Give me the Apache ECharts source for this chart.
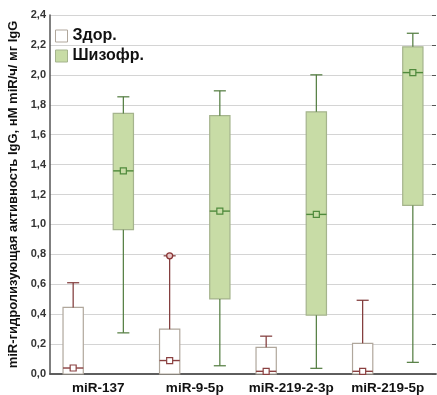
<!DOCTYPE html>
<html>
<head>
<meta charset="utf-8">
<script src="https://cdn.jsdelivr.net/npm/echarts@6/dist/echarts.min.js"></script>
<style>
  html, body { margin: 0; padding: 0; background: #fff; }
  #main { width: 437px; height: 395px; }
</style>
</head>
<body>
<div id="main"></div>
<script>
  // categories + box stats [min, q1, median, q3, max]
  var categories = ['miR-137', 'miR-9-5p', 'miR-219-2-3p', 'miR-219-5p']
  var healthy = [
    [0, 0, 0.04, 0.445, 0.61],
    [0, 0, 0.09, 0.30, 0.79],
    [0, 0, 0.018, 0.178, 0.253],
    [0, 0, 0.018, 0.205, 0.493]
  ]
  var schizo = [
    [0.275, 0.965, 1.358, 1.742, 1.853],
    [0.055, 0.502, 1.089, 1.727, 1.893],
    [0.038, 0.393, 1.067, 1.753, 2.0],
    [0.078, 1.127, 2.015, 2.187, 2.278]
  ]
  var healthyDots = [null, 0.79, null, null]
  var yTicks = ['0,0', '0,2', '0,4', '0,6', '0,8', '1,0', '1,2', '1,4', '1,6', '1,8', '2,0', '2,2', '2,4']

  var styles = {
    h: { fill: '#ffffff', border: '#b0a79c', whisker: '#7d3434', median: '#8a4040', mark: '#8a4040' },
    s: { fill: '#c8dca6', border: '#a5b48d', whisker: '#4f7a3c', median: '#4f8a3c', mark: '#4f8a3c' }
  }

  function makeRender (st, shift) {
    return function (params, api) {
      var idx = api.value(0)
      var band = api.size([1, 0])[0]
      var cx = api.coord([idx, 0])[0] + shift * band
      var bw = band * 0.21
      var cw = band * 0.125
      var yLow = api.coord([idx, api.value(1)])[1]
      var yQ1 = api.coord([idx, api.value(2)])[1]
      var yMed = api.coord([idx, api.value(3)])[1]
      var yQ3 = api.coord([idx, api.value(4)])[1]
      var yHigh = api.coord([idx, api.value(5)])[1]
      var children = []
      children.push({
        type: 'rect',
        shape: { x: cx - bw / 2, y: yQ3, width: bw, height: yQ1 - yQ3 },
        style: { fill: st.fill, stroke: st.border, lineWidth: 1.2 }
      })
      children.push({ type: 'line', shape: { x1: cx, y1: yQ3, x2: cx, y2: yHigh }, style: { stroke: st.whisker, lineWidth: 1.2 } })
      children.push({ type: 'line', shape: { x1: cx - cw / 2, y1: yHigh, x2: cx + cw / 2, y2: yHigh }, style: { stroke: st.whisker, lineWidth: 1.2 } })
      if (yLow - yQ1 > 1) {
        children.push({ type: 'line', shape: { x1: cx, y1: yQ1, x2: cx, y2: yLow }, style: { stroke: st.whisker, lineWidth: 1.2 } })
        children.push({ type: 'line', shape: { x1: cx - cw / 2, y1: yLow, x2: cx + cw / 2, y2: yLow }, style: { stroke: st.whisker, lineWidth: 1.2 } })
      }
      children.push({ type: 'line', shape: { x1: cx - bw / 2, y1: yMed, x2: cx + bw / 2, y2: yMed }, style: { stroke: st.median, lineWidth: 1.4 } })
      children.push({ type: 'rect', shape: { x: cx - 3, y: yMed - 3, width: 6, height: 6 }, style: { fill: st.fill, stroke: st.mark, lineWidth: 1.2 } })
      return { type: 'group', children: children }
    }
  }

  function toData (arr) {
    return arr.map(function (d, i) { return [i].concat(d) })
  }

  var chart = echarts.init(document.getElementById('main'))
  var option = {
    animation: false,
    backgroundColor: '#ffffff',
    grid: { left: 50, right: 1, top: 15, bottom: 21, outerBoundsMode: 'none' },
    legend: {
      orient: 'vertical',
      left: 50,
      top: 23,
      itemWidth: 12,
      itemHeight: 12,
      itemGap: 4,
      icon: 'rect',
      textStyle: { fontFamily: 'Liberation Sans, Arial', fontWeight: 'bold', fontSize: 16, color: '#111' },
      data: [
        { name: 'Здор.', itemStyle: { color: '#ffffff', borderColor: '#b0a79c', borderWidth: 1 } },
        { name: 'Шизофр.', itemStyle: { color: '#c8dca6', borderColor: '#a5b48d', borderWidth: 1 } }
      ]
    },
    xAxis: [
      {
        type: 'category',
        data: categories,
        boundaryGap: true,
        axisLine: { lineStyle: { color: '#555', width: 1.5 } },
        axisTick: { inside: true, alignWithLabel: true, length: 3, lineStyle: { color: '#555' } },
        axisLabel: { fontFamily: 'Liberation Sans, Arial', fontWeight: 'bold', fontSize: 13.5, color: '#111', margin: 7, interval: 0 }
      },
      {
        type: 'category',
        position: 'top',
        data: categories,
        boundaryGap: true,
        axisLine: { lineStyle: { color: '#555', width: 1.5 } },
        axisTick: { inside: true, alignWithLabel: true, length: 3, lineStyle: { color: '#888' } },
        axisLabel: { show: false }
      }
    ],
    yAxis: [
      {
        type: 'value',
        min: 0,
        max: 2.4,
        interval: 0.2,
        name: 'miR-гидролизующая активность IgG, нМ miR/ч/ мг IgG',
        nameLocation: 'middle',
        nameRotate: 90,
        nameGap: 30,
        nameTextStyle: { fontFamily: 'Liberation Sans, Arial', fontWeight: 'bold', fontSize: 13, color: '#111' },
        axisLine: { show: true, lineStyle: { color: '#555', width: 1.5 } },
        axisTick: { show: false },
        axisLabel: {
          fontFamily: 'Liberation Sans, Arial', fontWeight: 'bold', fontSize: 11, color: '#333', margin: 4,
          formatter: function (v) { return yTicks[Math.round(v / 0.2)] }
        },
        splitLine: { lineStyle: { color: '#d4d4d4', width: 1 } }
      },
      {
        type: 'value',
        min: 0,
        max: 2.4,
        interval: 0.2,
        position: 'right',
        axisLine: { show: false },
        axisTick: { show: true, inside: true, length: 4, lineStyle: { color: '#555' } },
        axisLabel: { show: false },
        splitLine: { show: false }
      }
    ],
    series: [
      {
        name: 'Здор.',
        type: 'custom',
        renderItem: makeRender(styles.h, -0.26),
        encode: { x: 0, y: [1, 2, 3, 4, 5] },
        itemStyle: { color: '#ffffff', borderColor: '#b0a79c' },
        data: toData(healthy),
        z: 3
      },
      {
        name: 'Шизофр.',
        type: 'custom',
        renderItem: makeRender(styles.s, 0.26),
        encode: { x: 0, y: [1, 2, 3, 4, 5] },
        itemStyle: { color: '#c8dca6', borderColor: '#a5b48d' },
        data: toData(schizo),
        z: 3
      },
      {
        name: 'dots',
        type: 'custom',
        renderItem: function (params, api) {
          var idx = api.value(0)
          var band = api.size([1, 0])[0]
          var p = api.coord([idx, api.value(1)])
          return { type: 'circle', shape: { cx: p[0] - 0.26 * band, cy: p[1], r: 3 }, style: { fill: '#e8c9c9', stroke: '#8a3535', lineWidth: 1.3 } }
        },
        data: healthyDots.map(function (v, i) { return v == null ? null : [i, v] }).filter(function (d) { return d }),
        z: 4
      }
    ]
  }
  chart.setOption(option)
</script>
</body>
</html>
